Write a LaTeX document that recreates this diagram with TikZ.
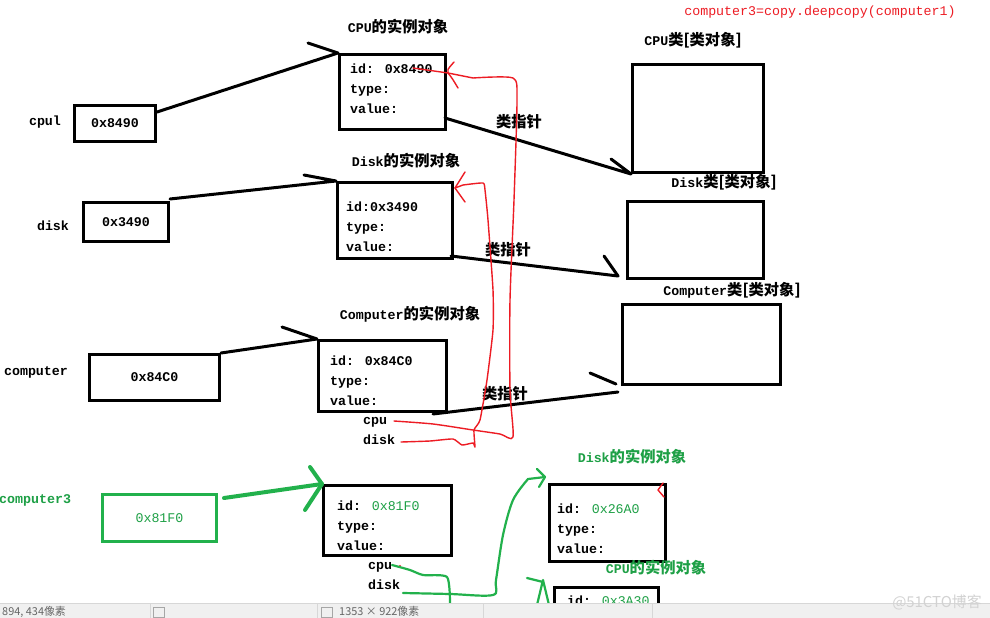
\documentclass[tikz,border=0pt]{standalone}
\usepackage{fontspec}
\setmainfont{Liberation Mono}
\newfontfamily\cjk{Noto Sans CJK SC}[Scale=1.15]
\usetikzlibrary{calc}
\definecolor{penred}{RGB}{237,28,36}
\definecolor{pengreen}{RGB}{34,177,76}
\definecolor{textgreen}{RGB}{30,160,70}
\definecolor{barbg}{RGB}{240,240,240}
\definecolor{barline}{RGB}{215,215,215}
\newcommand\cn[1]{{\cjk #1}}

\begin{document}
\begin{tikzpicture}[x=1pt,y=-1pt,
		txt/.style={font=\fontsize{13.3}{19.7}\selectfont\bfseries,inner sep=0pt},
		box/.style={txt,draw,line width=3pt,anchor=north west},
		fields/.style={txt,anchor=north west,align=left},
		link/.style={line width=3pt,line cap=round,line join=round},
		redpen/.style={penred,line width=1.4pt,line cap=round,line join=round},
		greenpen/.style={pengreen,line width=2.2pt,line cap=round,line join=round}]
%		\draw[lightgray] (0,0) grid[step=50] (990,618);
		\useasboundingbox (0,0) rectangle (990,618);
		\fill[white] (0,0) rectangle (990,618);
		% variables
		\node[txt] (cpulbl) at (45,122) {cpul};
		\node[box,minimum width=81,minimum height=36] (cpuvar) at (73,104) {0x8490};
		\node[txt] (dsklbl) at (53,226) {disk};
		\node[box,minimum width=85,minimum height=39] (dskvar) at (82,201) {0x3490};
		\node[txt] (cmplbl) at (36,372) {computer};
		\node[box,minimum width=130,minimum height=46] (cmpvar) at (88,353) {0x84C0};
		\node[txt,textgreen,anchor=west] (cp3lbl) at (-1,500) {computer3};
		\node[box,pengreen,text=textgreen,minimum width=114,minimum height=47] (cp3var) at (101,493) {\mdseries 0x81F0};
		% instances
		\node[txt] (cputitle) at (398,27) {CPU\cn{的实例对象}};
		\node[box,minimum width=106,minimum height=75] (cpuobj) at (338,53) {};
		\node[fields] (cpuinfo) at ($(cpuobj.north west)+(12,11)$) {id: 0x8490\\type:\\value:};
		\node[txt] (dsktitle) at (406,161) {Disk\cn{的实例对象}};
		\node[box,minimum width=115,minimum height=76] (dskobj) at (336,181) {};
		\node[fields] (dskinfo) at ($(dskobj.north west)+(10,21)$) {id:0x3490\\type:\\value:};
		\node[txt] (cmptitle) at (410,314) {Computer\cn{的实例对象}};
		\node[box,minimum width=128,minimum height=71] (cmpobj) at (317,339) {};
		\node[fields] (cmpinfo) at ($(cmpobj.north west)+(13,17)$) {id: 0x84C0\\type:\\value:\\\hspace*{33pt}cpu\\\hspace*{33pt}disk};
		% classes
		\node[txt] (cputype) at (693,40) {CPU\cn{类[类对象]}};
		\node[box,minimum width=131,minimum height=108] (cpucls) at (631,63) {};
		\node[txt] (dsktype) at (724,182) {Disk\cn{类[类对象]}};
		\node[box,minimum width=136,minimum height=77] (dskcls) at (626,200) {};
		\node[txt] (cmptype) at (732,290) {Computer\cn{类[类对象]}};
		\node[box,minimum width=158,minimum height=80] (cmpcls) at (621,303) {};
		\node[txt,penred] (deep) at (820,12) {\mdseries computer3=copy.deepcopy(computer1)};
		% copy
		\node[box,minimum width=128,minimum height=70] (cp3obj) at (322,484) {};
		\node[fields] (cp3info) at ($(cp3obj.north west)+(15,17)$) {id: \textcolor{textgreen}{\mdseries 0x81F0}\\type:\\value:\\\hspace*{31pt}cpu\\\hspace*{31pt}disk};
		\node[txt,textgreen] (dsk2title) at (632,457) {Disk\cn{的实例对象}};
		\node[box,minimum width=116,minimum height=77] (dsk2obj) at (548,483) {};
		\node[fields] (dsk2info) at ($(dsk2obj.north west)+(9,21)$) {id: \textcolor{textgreen}{\mdseries 0x26A0}\\type:\\value:};
		\node[txt,textgreen] (cpu2title) at (656,568) {CPU\cn{的实例对象}};
		\node[box,minimum width=104,minimum height=50] (cpu2obj) at (553,586) {};
		\node[fields] (cpu2info) at ($(cpu2obj.north west)+(14,10)$) {id: \textcolor{textgreen}{\mdseries 0x3A30}};
		% references
		\draw[link] ($(cpuvar.north east)+(0,8)$) -- (cpuobj.north west) -- ++(-30,-10);
		\draw[link] ($(dskvar.north east)+(0,-2)$) -- (dskobj.north west) -- ++(-32,-6);
		\draw[link] (cmpvar.north east) -- (cmpobj.north west) -- ++(-35,-12);
		\draw[link] ($(cpuobj.south east)+(-2,-13)$) -- (cpucls.south west) -- ++(-20,-15);
		\node[txt] (ptr1) at (519,122) {\cn{类指针}};
		\draw[link] ($(dskobj.south east)+(-3,-4)$) -- ($(dskcls.south west)+(-8,-4)$) -- ++(-14,-20);
		\node[txt] (ptr2) at (508,250) {\cn{类指针}};
		\draw[link] ($(cmpobj.south east)+(-15,1)$) -- ($(cmpcls.south west)+(-3,6)$);
		\draw[link] ($(cmpcls.south west)+(-31,-13)$) -- ++(26,11);
		\node[txt] (ptr3) at (505,394) {\cn{类指针}};
		\draw[link,pengreen,line width=4pt] ($(cp3var.north east)+(6,5)$) -- (cp3obj.north west);
		\draw[link,pengreen,line width=4pt] ($(cp3obj.north west)+(-12,-17)$) -- (cp3obj.north west) -- ++(-17,26);
		% red pen
		\draw[redpen] plot[smooth,tension=0.4] coordinates {(394,421) (433,424) (473,430) (500,434) (513,437) (510,390) (510,300) (514,200) (517,100) (513,78) (473,78)} -- ($(cpuobj.north east)+(1,20)$);
		\draw[redpen] (413,68) -- ($(cpuobj.north east)+(1,20)$);
		\draw[redpen] (454,62) .. controls (447,70) .. ($(cpuobj.north east)+(1,20)$) .. controls (452,78) .. (458,88);
		\draw[redpen] plot[smooth,tension=0.3] coordinates {(401,442) (430,441) (453,439) (462,445) (473,443) (475,447) (474,430) (480,420) (487,380) (493,330) (493,290) (488,220) (485,190) (483,183) (463,185)} -- ($(dskobj.north east)+(1,7)$);
		\draw[redpen] (465,172) -- ($(dskobj.north east)+(1,7)$) -- (465,202);
		\draw[redpen] (663,483) -- (658,490) -- (664,497);
		% green pen
		\fill[penred] (400,566) circle (1.2);
		\draw[greenpen] plot[smooth,tension=0.4] coordinates {(392,565) (410,570) (423,575) (447,577) (450,603)};
		\draw[greenpen] plot[smooth,tension=0.5] coordinates {(403,593) (450,594) (493,595) (496,580) (503,535) (513,500) (528,479)} -- ($(dsk2obj.north west)+(-3,-6)$);
		\draw[greenpen] (537,469) -- ($(dsk2obj.north west)+(-3,-6)$) -- (539,487);
		\draw[greenpen] (527,578) -- (543,582);
		\draw[greenpen] (537,605) -- (543,580) -- (549,605);
		% status bar
		\fill[barbg] (0,603) rectangle (990,625);
		\draw[barline] (0,603.5) -- (990,603.5);
		\foreach \x in {150,317,483,652}
		\draw[barline] (\x,603) -- (\x,625);
		\draw[gray!70] (153,607) rectangle (164,617);
		\draw[gray!70] (321,607) rectangle (332,617);
		\node[anchor=north west,inner sep=0pt,font=\cjk\fontsize{9.5}{10}\selectfont,gray!80!black] (pos) at (2,606) {894, 434像素};
		\node[anchor=north west,inner sep=0pt,font=\cjk\fontsize{9.5}{10}\selectfont,gray!80!black] (size) at (339,606) {1353 × 922像素};
		\node[inner sep=0pt,font=\cjk\fontsize{13}{13}\selectfont,gray!35] (mark) at (937,602) {@51CTO博客};
	\end{tikzpicture}
\end{document}
